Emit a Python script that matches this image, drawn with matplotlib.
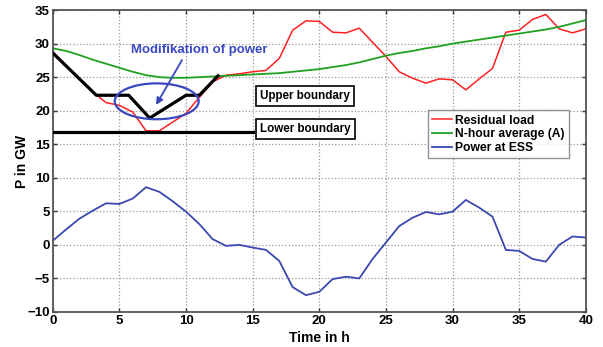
import matplotlib.pyplot as plt
from matplotlib.patches import Ellipse

plt.rcParams['font.family'] = ['Liberation Sans', 'DejaVu Sans']
plt.rcParams['font.weight'] = 'bold'

# hourly values
hours = list(range(41))
residual_load = [28.8, 26.8, 24.8, 22.8, 21.2, 20.8, 19.8, 17.0, 17.0, 18.3,
                 19.6, 22.0, 24.3, 25.3, 25.5, 25.8, 26.0, 27.8, 32.0, 33.4,
                 33.3, 31.7, 31.6, 32.3, 30.2, 28.1, 25.8, 24.85, 24.1, 24.75,
                 24.6, 23.1, 24.75, 26.3, 31.7, 32.0, 33.6, 34.35, 32.2, 31.6,
                 32.2]
n_hour_avg = [29.3, 28.9, 28.3, 27.6, 27.0, 26.4, 25.8, 25.3, 25.0, 24.9,
              24.9, 25.0, 25.1, 25.2, 25.3, 25.4, 25.5, 25.6, 25.8, 26.0,
              26.2, 26.5, 26.8, 27.2, 27.7, 28.2, 28.6, 28.9, 29.3, 29.6,
              30.0, 30.3, 30.6, 30.9, 31.2, 31.5, 31.8, 32.1, 32.5, 33.0,
              33.5]
power_ess = [0.6, 2.3, 3.9, 5.1, 6.2, 6.1, 6.9, 8.6, 7.9, 6.5,
             4.95, 3.1, 0.85, -0.15, 0.0, -0.4, -0.75, -2.4, -6.3, -7.5,
             -7.0, -5.1, -4.75, -5.0, -2.1, 0.35, 2.8, 4.05, 4.9, 4.55,
             4.95, 6.7, 5.55, 4.2, -0.75, -0.9, -2.1, -2.5, 0.0, 1.25,
             1.1]

# modified power (black) and lower boundary
mod_t = [0, 3.27, 5.7, 7.27, 10.0, 11.0, 12.4]
mod_p = [28.6, 22.3, 22.3, 18.9, 22.3, 22.3, 25.2]
lower_t = [0, 15]
lower_p = [16.8, 16.8]

fig = plt.figure(figsize=(6.03, 3.47), dpi=100)
ax = fig.add_axes([0.0875, 0.101, 0.884, 0.870])

ax.plot(mod_t, mod_p, color='black', lw=2.3, zorder=3)
ax.plot(lower_t, lower_p, color='black', lw=2.3, zorder=3)
l1, = ax.plot(hours, residual_load, color='#ff2020', lw=1.1, label='Residual load', zorder=2)
l2, = ax.plot(hours, n_hour_avg, color='#22a022', lw=1.3, label='N-hour average (A)', zorder=2)
l3, = ax.plot(hours, power_ess, color='#3a48b0', lw=1.3, label='Power at ESS', zorder=2)

ax.add_patch(Ellipse((7.8, 21.4), 6.3, 5.35, fill=False, ec='#3a48c0', lw=1.6, zorder=4))
ax.annotate('', xy=(7.65, 20.5), xytext=(9.8, 27.9),
            arrowprops=dict(arrowstyle='-|>', color='#3a48c0', lw=1.3,
                            mutation_scale=10), zorder=4)
ax.text(11.0, 29.0, 'Modifikation of power', color='#3a48c0', fontsize=9.5,
        fontweight='bold', ha='center', va='center')

box = dict(boxstyle='square,pad=0.35', fc='white', ec='black', lw=1.2)
ax.text(15.55, 22.2, 'Upper boundary', fontsize=8.4, fontweight='bold',
        va='center', ha='left', bbox=box, zorder=5)
ax.text(15.55, 17.3, 'Lower boundary', fontsize=8.4, fontweight='bold',
        va='center', ha='left', bbox=box, zorder=5)

ax.set_xlim(0, 40)
ax.set_ylim(-10, 35)
ax.set_xticks(range(0, 41, 5))
ax.set_yticks(range(-10, 36, 5))
ax.grid(True, linestyle=':', color='#999999', lw=0.9)
ax.tick_params(direction='in', top=True, right=True, length=3, labelsize=9.5,
               width=1, color='#333333', pad=2)
for lab in ax.get_xticklabels() + ax.get_yticklabels():
    lab.set_fontweight('bold')
for s in ax.spines.values():
    s.set_color('#555555')
    s.set_linewidth(1.3)

ax.set_xlabel('Time in h', fontsize=10, fontweight='bold', labelpad=3)
ax.set_ylabel('P in GW', fontsize=10, fontweight='bold', labelpad=-1)

leg = ax.legend(handles=[l1, l2, l3], loc='upper left', bbox_to_anchor=(0.704, 0.668),
                fontsize=8.7, frameon=True, fancybox=False, handlelength=1.6,
                handletextpad=0.3, borderpad=0.35, labelspacing=0.15, borderaxespad=0)
leg.get_frame().set_edgecolor('#777777')
leg.get_frame().set_linewidth(1.0)
for t in leg.get_texts():
    t.set_fontweight('bold')

fig.savefig('out.png', dpi=100)
